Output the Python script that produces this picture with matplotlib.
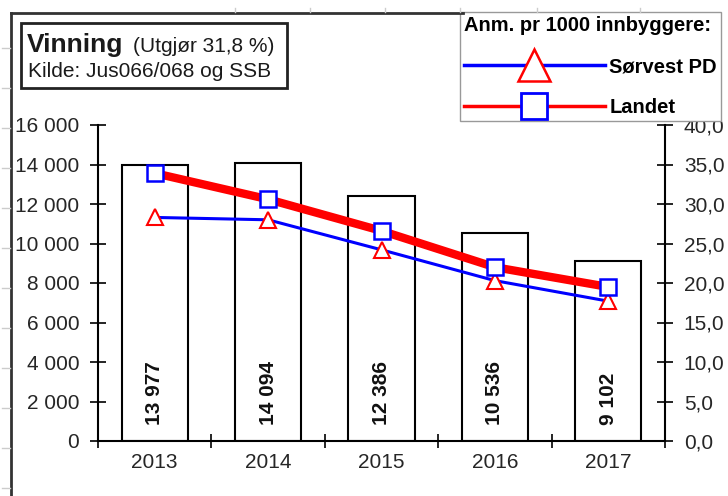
import numpy as np
import matplotlib
matplotlib.use('Agg')
import matplotlib.pyplot as plt
from matplotlib.lines import Line2D
from matplotlib.patches import Rectangle
from matplotlib.ticker import FuncFormatter

plt.rcParams['font.family'] = ['Liberation Sans', 'DejaVu Sans']

# data
years   = ['2013', '2014', '2015', '2016', '2017']
vinning = [13977, 14094, 12386, 10536, 9102]     # antall anmeldelser (venstre akse)
sorvest = [28.3, 28.0, 24.2, 20.3, 17.7]         # pr 1000 innbyggere, Sørvest PD
landet  = [33.9, 30.6, 26.6, 22.0, 19.5]         # pr 1000 innbyggere, Landet

W, H = 728, 496
fig = plt.figure(figsize=(W / 100, H / 100), dpi=100)
ax = fig.add_axes([98 / W, 55 / H, 567 / W, 316 / H])

x = np.arange(len(years))
ax.bar(x, vinning, width=0.585, color='white', edgecolor='black', linewidth=1.5, zorder=2)
for xi, v in zip(x, vinning):
    ax.annotate(f'{v:,}'.replace(',', ' '), (xi, 0), xytext=(0, 11.5),
                textcoords='offset points', rotation=90, ha='center', va='bottom',
                fontsize=15, fontweight='bold', color='#111111')

ax.set_xlim(-0.5, len(years) - 0.5)
ax.set_ylim(0, 16000)
ax.set_yticks(np.arange(0, 16001, 2000))
ax.yaxis.set_major_formatter(FuncFormatter(lambda v, p: f'{int(v):,}'.replace(',', ' ')))
ax.set_xticks(np.arange(-0.5, len(years), 1))
ax.set_xticklabels([])
ax.set_xticks(x, minor=True)
ax.set_xticklabels(years, minor=True)
ax.tick_params(axis='x', which='major', direction='inout', length=10, width=1.2)
ax.tick_params(axis='x', which='minor', length=0, pad=9, labelsize=15, labelcolor='#262626')
ax.tick_params(axis='y', direction='inout', length=11, width=1.2, labelsize=15,
               labelcolor='#262626', pad=8)
for s in ['top', 'right']:
    ax.spines[s].set_visible(False)
for s in ['left', 'bottom']:
    ax.spines[s].set_linewidth(1.5)

ax2 = ax.twinx()
ax2.set_ylim(0, 40)
ax2.set_yticks(np.arange(0, 40.1, 5))
ax2.yaxis.set_major_formatter(FuncFormatter(lambda v, p: f'{v:.1f}'.replace('.', ',')))
ax2.tick_params(axis='y', direction='inout', length=11, width=1.2, labelsize=15,
                labelcolor='#262626', pad=8)
for s in ['top', 'left', 'bottom']:
    ax2.spines[s].set_visible(False)
ax2.spines['right'].set_linewidth(1.5)

ax2.plot(x, sorvest, color='blue', lw=2.2, marker='^', ms=12, mfc='white',
         mec='red', mew=1.5, zorder=3)
ax2.plot(x, landet, color='red', lw=6, marker='s', ms=11, mfc='white',
         mec='blue', mew=1.8, zorder=4)

handles = [Line2D([], [], color='blue', lw=2.5, marker='^', ms=23, mfc='white', mec='red', mew=1.8),
           Line2D([], [], color='red', lw=2.5, marker='s', ms=19, mfc='white', mec='blue', mew=2)]
leg = ax2.legend(handles, ['Sørvest PD', 'Landet'], title='Anm. pr 1000 innbyggere:',
                 loc='upper right', bbox_to_anchor=(721 / W, 1 - 12 / H),
                 bbox_transform=fig.transFigure,
                 prop={'weight': 'bold', 'size': 14.5},
                 title_fontproperties={'weight': 'bold', 'size': 14.5},
                 handlelength=7.0, handletextpad=0.22, labelspacing=1.1, borderpad=0.2,
                 borderaxespad=0, fancybox=False, framealpha=1, edgecolor='#999999',
                 numpoints=1, alignment='left')
leg.get_frame().set_linewidth(1.0)
leg.set_zorder(10)

# title box
fig.add_artist(Rectangle((21 / W, 1 - 88 / H), 266 / W, 65 / H, transform=fig.transFigure,
                         fill=False, lw=2, ec='#222222'))
fig.text(27 / W, 1 - 52 / H, 'Vinning', fontsize=19, fontweight='bold', va='baseline', color='#1a1a1a')
fig.text(133 / W, 1 - 52 / H, '(Utgjør 31,8 %)', fontsize=15, va='baseline', color='#1a1a1a')
fig.text(28 / W, 1 - 77 / H, 'Kilde: Jus066/068 og SSB', fontsize=15, va='baseline', color='#1a1a1a')

# outer sheet frame and faint grid marks
fig.add_artist(Line2D([11 / W, 11 / W], [0, 1 - 13 / H], transform=fig.transFigure, color='#333333', lw=2))
fig.add_artist(Line2D([11 / W, 463 / W], [1 - 13 / H] * 2, transform=fig.transFigure, color='#333333', lw=2))
for yy in range(48, H, 40):
    fig.add_artist(Line2D([2 / W, 10 / W], [1 - yy / H] * 2, transform=fig.transFigure, color='#cccccc', lw=1))
for xx in [235, 310, 385, 460, 537, 640]:
    fig.add_artist(Line2D([xx / W] * 2, [1 - 8 / H, 1 - 12 / H], transform=fig.transFigure, color='#cccccc', lw=1))

fig.savefig('out.png', dpi=100)
